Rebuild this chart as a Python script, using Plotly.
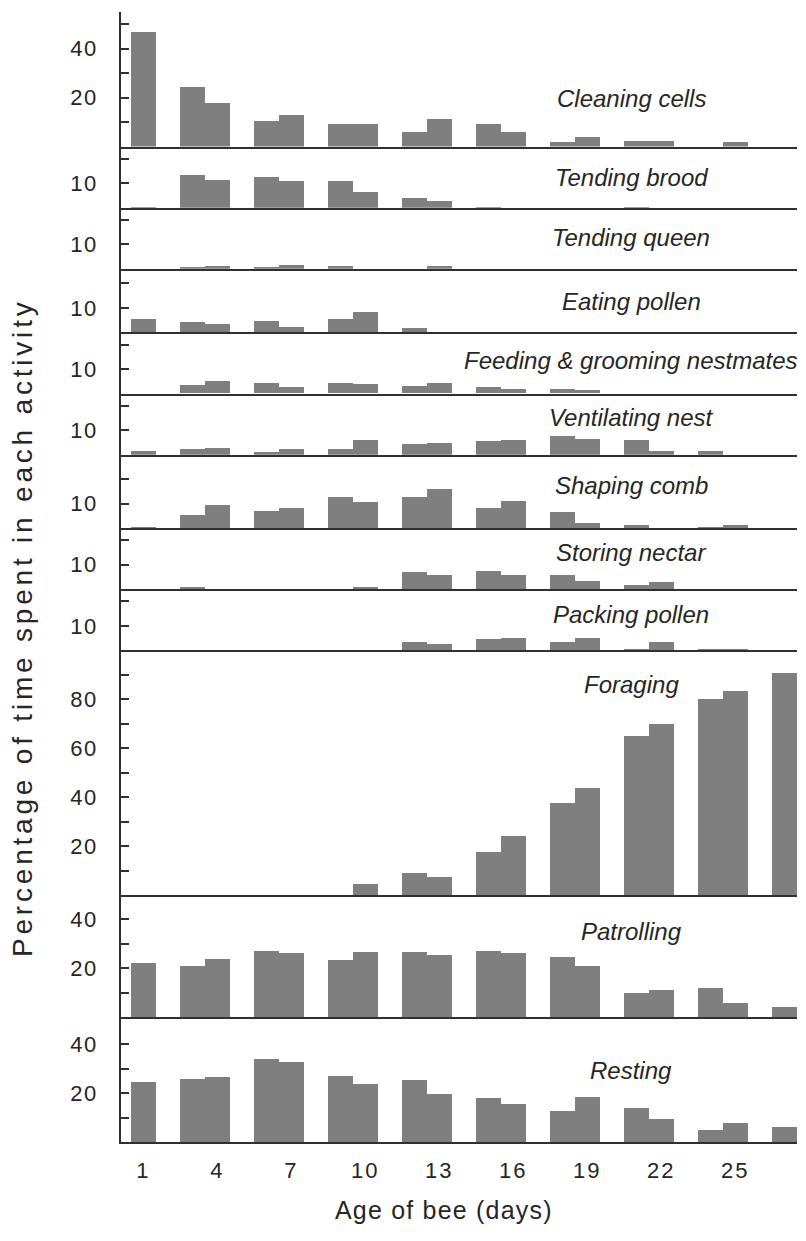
import plotly.graph_objects as go
from plotly.subplots import make_subplots

# ---------------- data ----------------
days = [1, 3, 4, 6, 7, 9, 10, 12, 13, 15, 16, 18, 19, 21, 22, 24, 25, 27]

activities = ["Cleaning cells", "Tending brood", "Tending queen", "Eating pollen",
              "Feeding & grooming nestmates", "Ventilating nest", "Shaping comb",
              "Storing nectar", "Packing pollen", "Foraging", "Patrolling", "Resting"]

cleaning_cells = [46.7, 24.5, 17.6, 10.6, 12.9, 9.4, 9.4, 6.0, 11.2, 9.4, 5.9, 1.8, 4.1, 2.4, 2.4, 0, 1.8, 0]
tending_brood = [0.5, 13.6, 11.6, 12.9, 11.2, 11.2, 6.5, 4.2, 3.0, 0.5, 0, 0, 0, 0.5, 0, 0, 0, 0]
tending_queen = [0, 0.7, 1.2, 0.7, 1.8, 1.2, 0, 0, 1.2, 0, 0, 0, 0, 0, 0, 0, 0, 0]
eating_pollen = [5.4, 4.2, 3.7, 4.8, 2.4, 5.4, 8.3, 1.9, 0, 0, 0, 0, 0, 0, 0, 0, 0, 0]
feeding_grooming = [0, 3.5, 4.8, 4.2, 2.4, 4.2, 3.7, 3.0, 4.2, 2.4, 1.8, 1.8, 1.2, 0, 0, 0, 0, 0]
ventilating = [1.9, 2.6, 3.1, 1.4, 2.6, 2.6, 6.0, 4.4, 4.9, 5.6, 6.0, 7.8, 6.7, 6.0, 1.9, 1.9, 0, 0]
shaping_comb = [0.5, 5.3, 9.4, 7.1, 8.3, 12.9, 10.6, 12.9, 16.3, 8.3, 11.2, 6.5, 2.4, 1.2, 0, 0.5, 1.2, 0]
storing_nectar = [0, 0.7, 0, 0, 0, 0, 0.7, 7.1, 5.9, 7.6, 5.9, 5.9, 3.5, 1.8, 2.9, 0, 0, 0]
packing_pollen = [0, 0, 0, 0, 0, 0, 0, 3.3, 2.7, 4.5, 5.0, 3.3, 5.0, 0.4, 3.3, 0.4, 0.4, 0]
foraging = [0, 0, 0, 0, 0, 0, 4.2, 8.8, 7.1, 17.4, 23.8, 37.3, 43.5, 65.0, 69.7, 80.1, 83.1, 90.6]
patrolling = [22.2, 21.1, 23.9, 27.3, 26.3, 23.4, 26.8, 26.8, 25.6, 27.3, 26.3, 24.5, 21.1, 9.9, 11.2, 12.1, 6.0, 4.2]
resting = [24.6, 25.7, 26.4, 33.9, 32.8, 26.9, 23.5, 25.2, 19.5, 17.7, 15.4, 12.5, 18.4, 13.6, 9.1, 4.9, 7.8, 6.0]

series = [cleaning_cells, tending_brood, tending_queen, eating_pollen, feeding_grooming,
          ventilating, shaping_comb, storing_nectar, packing_pollen, foraging, patrolling, resting]

# axis maxima of each panel and tick marks / labels
y_max = [55, 25, 25, 26, 25, 25, 30, 25, 25, 100, 50, 51]
y_ticks = [[10, 20, 30, 40, 50]] + [[10, 20]] * 8 + [[10, 20, 30, 40, 50, 60, 70, 80, 90],
                                                    [10, 20, 30, 40], [10, 20, 30, 40]]
y_labels = [[20, 40]] + [[10]] * 8 + [[20, 40, 60, 80], [20, 40], [20, 40]]
x_ticks = [1, 4, 7, 10, 13, 16, 19, 22, 25]

# ---------------- layout constants ----------------
W, H = 806, 1241
ML, MR, MT, MB = 121, 9, 12, 99
FONT = "Liberation Sans, Arial, Helvetica, sans-serif"
TXT = "#262626"
BAR = "#7f7f7f"
LINE = "#303030"


def spaced(s, sp):
    return "<span style='letter-spacing:%spx'>%s</span>" % (sp, s)


n = len(series)
fig = make_subplots(rows=n, cols=1, shared_xaxes=True, vertical_spacing=0,
                    row_heights=[m / sum(y_max) for m in y_max])

for i, vals in enumerate(series):
    fig.add_trace(go.Bar(x=days, y=vals, width=1.0, marker=dict(color=BAR, line=dict(width=0)),
                         showlegend=False, name=activities[i]), row=i + 1, col=1)
    fig.update_yaxes(range=[0, y_max[i]], tickvals=y_ticks[i],
                     ticktext=[spaced(str(t), 1.5) if t in y_labels[i] else "" for t in y_ticks[i]],
                     ticks="inside", ticklen=8, tickwidth=1.5, tickcolor=LINE,
                     showline=True, linecolor=LINE, linewidth=1.6,
                     showgrid=False, zeroline=False, ticklabelstandoff=17,
                     tickfont=dict(family=FONT, size=22, color=TXT),
                     row=i + 1, col=1)
    fig.update_xaxes(range=[0.094, 27.5], showline=True, linecolor=LINE, linewidth=1.6,
                     showgrid=False, zeroline=False, ticks="", showticklabels=(i == n - 1),
                     row=i + 1, col=1)

fig.update_xaxes(tickvals=x_ticks, ticktext=[spaced(str(t), 2) for t in x_ticks],
                 tickfont=dict(family=FONT, size=22, color=TXT), ticklabelstandoff=8,
                 row=n, col=1)

# ---------------- labels ----------------
PW, PH = W - ML - MR, H - MT - MB


def px(xp, yp):
    return (xp - ML) / PW, (H - MB - yp) / PH


label_pos_y = [99, 178, 238, 301, 361, 417, 485, 553, 614, 684, 932, 1070]
annotations = []
for name, yp in zip(activities, label_pos_y):
    xa, ya = px(631, yp)
    annotations.append(dict(text=name, x=xa, y=ya, xref="paper", yref="paper",
                            xanchor="center", yanchor="middle", showarrow=False,
                            font=dict(family=FONT, size=24, color=TXT, style="italic")))

xa, ya = px(444, 1210)
annotations.append(dict(text=spaced("Age of bee (days)", 1.2), x=xa, y=ya, xref="paper", yref="paper",
                        xanchor="center", yanchor="middle", showarrow=False,
                        font=dict(family=FONT, size=25, color=TXT)))
xa, ya = px(22, 628)
annotations.append(dict(text=spaced("Percentage of time spent in each activity", 3.8), x=xa, y=ya,
                        xref="paper", yref="paper", textangle=-90,
                        xanchor="center", yanchor="middle", showarrow=False,
                        font=dict(family=FONT, size=28, color=TXT)))

fig.update_layout(width=W, height=H, margin=dict(l=ML, r=MR, t=MT, b=MB),
                  paper_bgcolor="white", plot_bgcolor="white", bargap=0,
                  annotations=annotations, showlegend=False)

fig.write_html("out.html", config={"displayModeBar": False},
               post_script="document.body.style.margin='0px';")
